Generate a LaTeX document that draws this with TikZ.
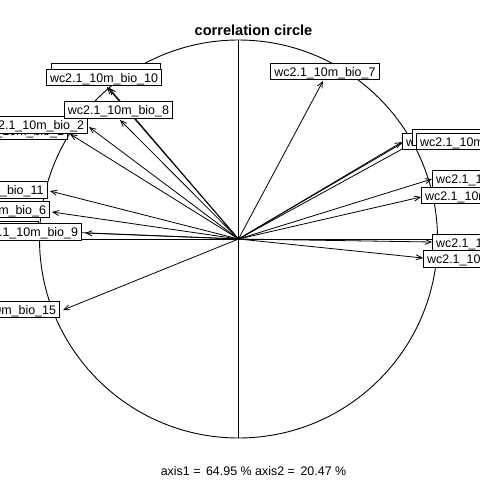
\documentclass[tikz,border=0pt]{standalone}
\usepackage{fontspec}
\setmainfont{Liberation Sans}
\usetikzlibrary{arrows.meta}
\tikzset{
  lab/.style={draw=black, fill=white, line width=0.9pt, inner xsep=3.7pt, inner ysep=0pt,
    minimum height=16.5pt, text height=9pt, text depth=0pt,
    font=\fontsize{12.45}{14}\selectfont},
  vec/.style={line width=0.8pt, -{Straight Barb[length=6pt,width=5pt]}},
  axisline/.style={line width=0.9pt},
}
\begin{document}
\begin{tikzpicture}[x=1pt,y=-1pt]
\useasboundingbox (0,0) rectangle (480,480);
\coordinate (o) at (238.5,239);
% circle and axes
\draw[axisline] (o) circle[radius=199];
\coordinate (vt) at (238.5,40);
\coordinate (vb) at (238.5,438);
\coordinate (hl) at (39.5,239);
\coordinate (hr) at (437.5,239);
\draw[axisline] (vt) -- (vb);
\draw[axisline] (hl) -- (hr);
% arrow tips
\coordinate (t1) at (70,134);
\coordinate (t2) at (89,127);
\coordinate (t4) at (40,231);
\coordinate (t5) at (109,88);
\coordinate (t6) at (52,212);
\coordinate (t7) at (323,81);
\coordinate (t8) at (120,120);
\coordinate (t9) at (85,233);
\coordinate (t10) at (107,87);
\coordinate (t11) at (50,191);
\coordinate (t12) at (402,142);
\coordinate (t13) at (411,138);
\coordinate (t14) at (432,179);
\coordinate (t15) at (63,310);
\coordinate (t16) at (415,142);
\coordinate (t17) at (421,197);
\coordinate (t18) at (432,242);
\coordinate (t19) at (423,258);
\foreach \i in {1,2,4,5,6,7,8,9,10,11,12,13,14,15,16,17,18,19}
  \draw[vec] (o) -- (t\i);
% labels
\node[lab] (l1) at (13.5,131) {wc2.1\_10m\_bio\_1};
\node[lab] (l2) at (33.5,125) {wc2.1\_10m\_bio\_2};
\node[lab] (l4) at (-15.5,230) {wc2.1\_10m\_bio\_4};
\node[lab, text height=15pt] (l5) at (106,71.5) {wc2.1\_10m\_bio\_5};
\node[lab] (l6) at (-4.5,209.5) {wc2.1\_10m\_bio\_6};
\node[lab] (l7) at (325,71.5) {wc2.1\_10m\_bio\_7};
\node[lab] (l8) at (118.5,110) {wc2.1\_10m\_bio\_8};
\node[lab] (l9) at (27.5,232) {wc2.1\_10m\_bio\_9};
\node[lab] (l10) at (104,77.5) {wc2.1\_10m\_bio\_10};
\node[lab] (l11) at (-10,190) {wc2.1\_10m\_bio\_11};
\node[lab, anchor=west] (l12) at (402,141.5) {wc2.1\_10m\_bio\_12};
\node[lab, anchor=west] (l13) at (412,137.5) {wc2.1\_10m\_bio\_13};
\node[lab, anchor=west] (l14) at (432,179) {wc2.1\_10m\_bio\_14};
\node[lab] (l15) at (2,309.5) {wc2.1\_10m\_bio\_15};
\node[lab, anchor=west] (l16) at (416,141.5) {wc2.1\_10m\_bio\_16};
\node[lab, anchor=west] (l17) at (421,195.5) {wc2.1\_10m\_bio\_17};
\node[lab, anchor=west] (l18) at (432,243) {wc2.1\_10m\_bio\_18};
\node[lab, anchor=west] (l19) at (423,259) {wc2.1\_10m\_bio\_19};
% title and footer
\node[anchor=base, inner sep=0pt, font=\fontsize{14.6}{17}\selectfont\bfseries] (title) at (253.5,35) {correlation circle};
\node[anchor=base, inner sep=0pt, font=\fontsize{12.45}{14}\selectfont] (foot) at (253.5,475) {axis1 = \,64.95 \% axis2 = \,20.47 \%};
\end{tikzpicture}
\end{document}
